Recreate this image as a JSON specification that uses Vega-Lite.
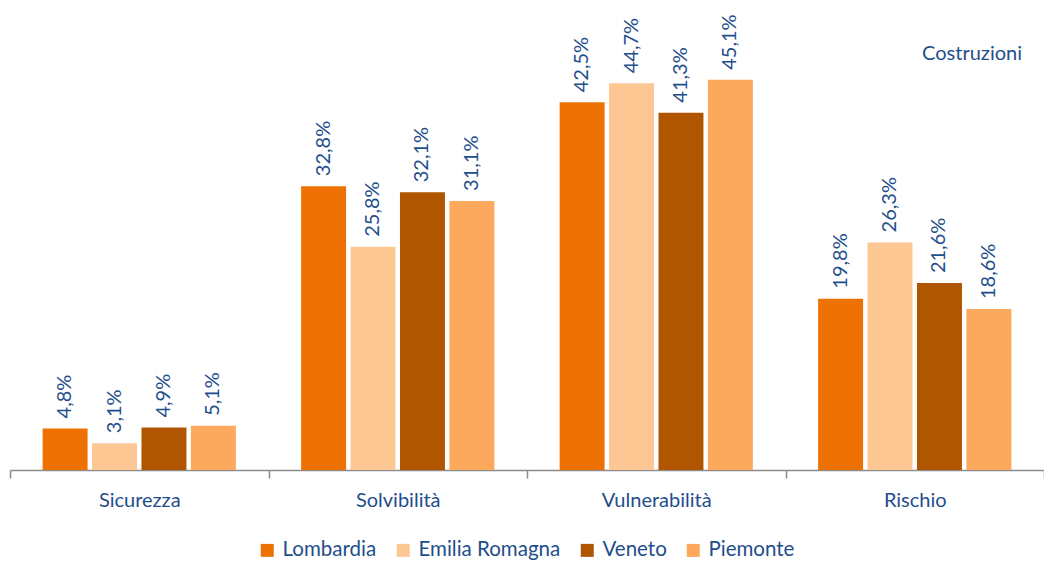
{
  "$schema": "https://vega.github.io/schema/vega-lite/v6.json",
  "width": 1034,
  "height": 398,
  "autosize": {"type": "none"},
  "padding": {"left": 10, "top": 72, "right": 0, "bottom": 91},
  "background": "white",
  "title": {
    "text": "Costruzioni",
    "anchor": "end",
    "frame": "group",
    "orient": "top",
    "offset": 0,
    "dx": -22,
    "dy": 50,
    "font": "Lato",
    "fontSize": 20,
    "fontWeight": "normal",
    "color": "#1F4E8C"
  },
  "data": {
    "values": [
      {"indicatore": "Sicurezza", "regione": "Lombardia", "quota": 0.048},
      {"indicatore": "Sicurezza", "regione": "Emilia Romagna", "quota": 0.031},
      {"indicatore": "Sicurezza", "regione": "Veneto", "quota": 0.049},
      {"indicatore": "Sicurezza", "regione": "Piemonte", "quota": 0.051},
      {"indicatore": "Solvibilità", "regione": "Lombardia", "quota": 0.328},
      {"indicatore": "Solvibilità", "regione": "Emilia Romagna", "quota": 0.258},
      {"indicatore": "Solvibilità", "regione": "Veneto", "quota": 0.321},
      {"indicatore": "Solvibilità", "regione": "Piemonte", "quota": 0.311},
      {"indicatore": "Vulnerabilità", "regione": "Lombardia", "quota": 0.425},
      {"indicatore": "Vulnerabilità", "regione": "Emilia Romagna", "quota": 0.447},
      {"indicatore": "Vulnerabilità", "regione": "Veneto", "quota": 0.413},
      {"indicatore": "Vulnerabilità", "regione": "Piemonte", "quota": 0.451},
      {"indicatore": "Rischio", "regione": "Lombardia", "quota": 0.198},
      {"indicatore": "Rischio", "regione": "Emilia Romagna", "quota": 0.263},
      {"indicatore": "Rischio", "regione": "Veneto", "quota": 0.216},
      {"indicatore": "Rischio", "regione": "Piemonte", "quota": 0.186}
    ]
  },
  "encoding": {
    "x": {
      "field": "indicatore",
      "type": "nominal",
      "sort": ["Sicurezza", "Solvibilità", "Vulnerabilità", "Rischio"],
      "scale": {"paddingInner": 0, "paddingOuter": 0},
      "axis": {
        "title": null,
        "labelAngle": 0,
        "tickBand": "extent",
        "tickSize": 8,
        "tickWidth": 1.5,
        "tickColor": "#8C8C8C",
        "domainColor": "#8C8C8C",
        "domainWidth": 1.5,
        "labelFont": "Lato",
        "labelFontSize": 20,
        "labelColor": "#1F4E8C",
        "labelPadding": 12
      }
    },
    "xOffset": {
      "field": "regione",
      "type": "nominal",
      "sort": ["Lombardia", "Emilia Romagna", "Veneto", "Piemonte"],
      "scale": {"paddingInner": 0.09, "paddingOuter": 0.66}
    },
    "y": {
      "field": "quota",
      "type": "quantitative",
      "scale": {"domain": [0, 0.46], "nice": false, "zero": true},
      "axis": null
    }
  },
  "layer": [
    {
      "mark": {"type": "bar"},
      "encoding": {
        "color": {
          "field": "regione",
          "type": "nominal",
          "sort": ["Lombardia", "Emilia Romagna", "Veneto", "Piemonte"],
          "scale": {
            "domain": ["Lombardia", "Emilia Romagna", "Veneto", "Piemonte"],
            "range": ["#EE7203", "#FDC794", "#B05600", "#FCA95E"]
          },
          "legend": {
            "title": null,
            "orient": "none",
            "legendX": 247,
            "legendY": 468,
            "direction": "horizontal",
            "symbolType": "square",
            "symbolSize": 169,
            "symbolStrokeWidth": 0,
            "labelFont": "Lato",
            "labelFontSize": 20.5,
            "labelColor": "#1F4E8C",
            "labelOffset": 5,
            "columnPadding": 16
          }
        }
      }
    },
    {
      "mark": {
        "type": "text",
        "angle": 270,
        "align": "left",
        "baseline": "middle",
        "dx": 10,
        "font": "Lato",
        "fontSize": 20,
        "color": "#1F4E8C"
      },
      "encoding": {
        "text": {"field": "quota", "type": "quantitative", "format": ".1%"}
      }
    }
  ],
  "config": {
    "view": {"stroke": null},
    "locale": {
      "number": {
        "decimal": ",",
        "thousands": ".",
        "grouping": [3],
        "currency": ["", " €"]
      }
    }
  }
}
